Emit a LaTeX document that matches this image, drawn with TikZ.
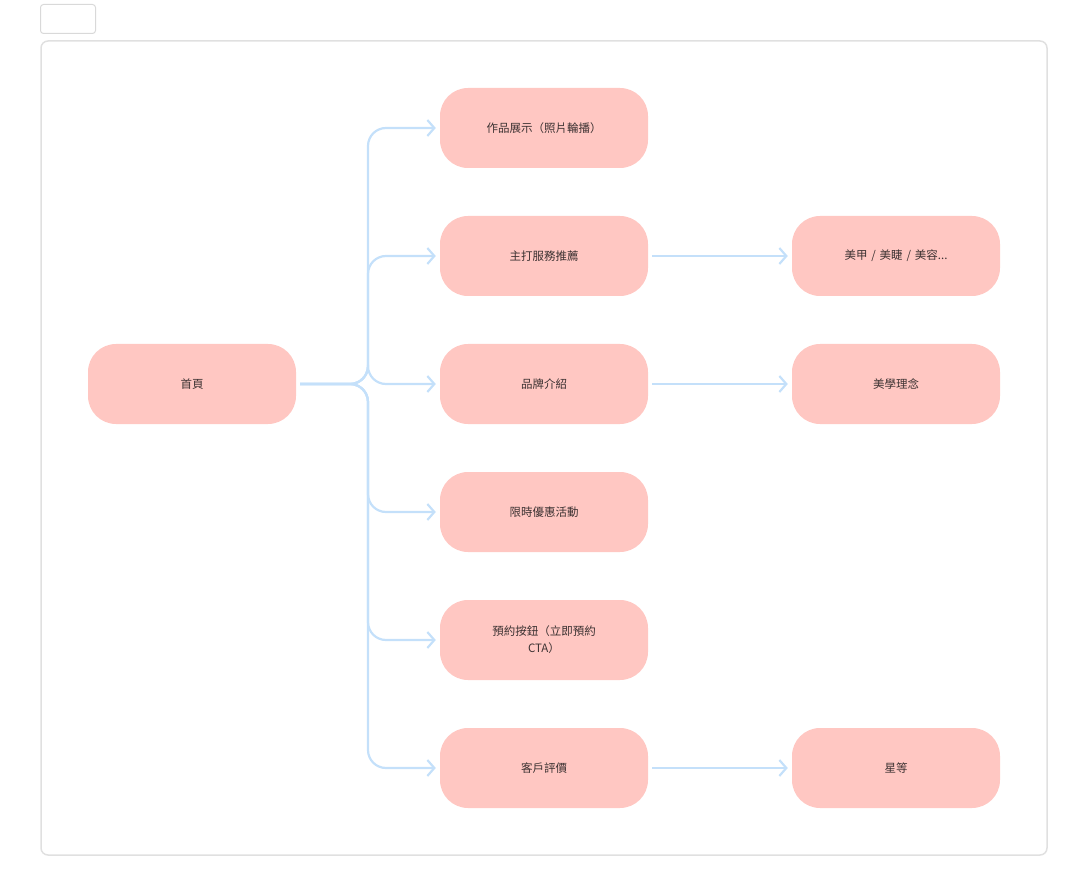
\documentclass[tikz,border=0pt]{standalone}
\usepackage{fontspec}
\setmainfont{Noto Sans CJK TC}
\usetikzlibrary{arrows.meta}
\definecolor{nodefill}{RGB}{255,199,194}
\definecolor{edge}{RGB}{196,224,250}
\definecolor{txt}{RGB}{60,50,50}
\begin{document}
\begin{tikzpicture}[x=1pt,y=-1pt,
  box/.style={draw=none,fill=nodefill,rounded corners=28pt,minimum width=208pt,minimum height=80pt,align=center,text=txt,font=\fontsize{11.5}{17}\selectfont,text width=150pt},
  link/.style={draw=edge,line width=2.2pt,rounded corners=18pt,-{Straight Barb[length=7pt,width=16pt,line width=2.2pt]}}]
\useasboundingbox (0,0) rectangle (1088,896);
\draw[draw=black!15,line width=1pt,rounded corners=3pt] (40.5,4.5) rectangle (95.5,33.5);
\draw[draw=black!12,line width=1.5pt,rounded corners=7pt] (41,41) rectangle (1047,855);
\node[box] (home) at (192,384) {首頁};
\node[box] (a) at (544,128) {作品展示（照片輪播）};
\node[box] (b) at (544,256) {主打服務推薦};
\node[box] (c) at (544,384) {品牌介紹};
\node[box] (d) at (544,512) {限時優惠活動};
\node[box] (e) at (544,640) {預約按鈕（立即預約\\CTA）};
\node[box] (f) at (544,768) {客戶評價};
\node[box] (b2) at (896,256) {美甲 / 美睫 / 美容...};
\node[box] (c2) at (896,384) {美學理念};
\node[box] (f2) at (896,768) {星等};
\coordinate (s) at ([xshift=4pt]home.east);
\foreach \t in {a,b,c,d,e,f}{
  \draw[link] (s) -- (368,384) |- ([xshift=-4pt]\t.west);
}
\foreach \p/\q in {b/b2,c/c2,f/f2}{
  \draw[link] ([xshift=4pt]\p.east) -- ([xshift=-4pt]\q.west);
}
\end{tikzpicture}
\end{document}
